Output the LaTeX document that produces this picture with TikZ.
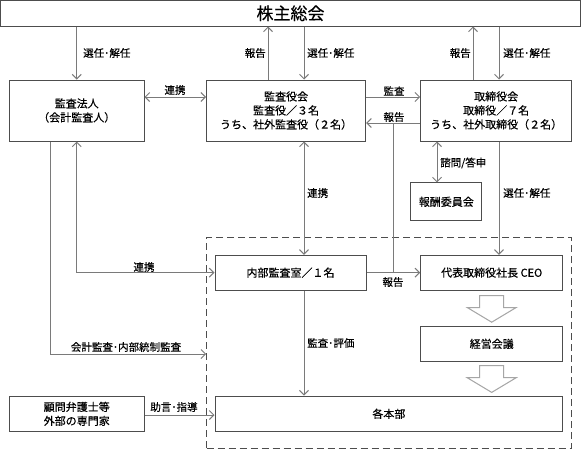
\documentclass[tikz,border=0pt]{standalone}
\usepackage{fontspec}
\setmainfont{Noto Sans CJK JP}[FakeBold=0.35]
\usetikzlibrary{arrows.meta}
\definecolor{boxc}{HTML}{4D4D4D}
\definecolor{linec}{HTML}{7A7A7A}
\definecolor{fatc}{HTML}{A6A6A6}
\begin{document}
\begin{tikzpicture}[x=1pt,y=-1pt,
  box/.style={draw=boxc,line width=1pt,inner sep=0pt,align=center,font=\fontsize{11}{14}\selectfont},
  conn/.style={draw=linec,line width=1pt},
  arr/.style={conn,-{Straight Barb[length=4.5pt,width=9pt]}},
  darr/.style={conn,{Straight Barb[length=4.5pt,width=9pt]}-{Straight Barb[length=4.5pt,width=9pt]}},
  lbl/.style={inner sep=0pt,font=\fontsize{10.5}{12}\selectfont},
  fat/.style={draw=fatc,line width=1pt,fill=white,line join=miter}]
\useasboundingbox (0,0) rectangle (581,450);
\fill[white] (0,0) rectangle (581,450);

% boxes
\node[box,minimum width=580pt,minimum height=25.5pt,font=\fontsize{17}{20}\selectfont] (soukai) at (290.5,13.25) {株主総会};
\node[box,minimum width=134.5pt,minimum height=61pt] (hojin) at (76.75,110.5) {監査法人\\（会計監査人）};
\node[box,minimum width=159pt,minimum height=61pt] (kansa) at (286.1,110.5) {監査役会\\監査役／３名\\うち、社外監査役（２名）};
\node[box,minimum width=151pt,minimum height=61pt] (tori) at (496.2,110.5) {取締役会\\取締役／７名\\うち、社外取締役（２名）};
\node[box,minimum width=70.7pt,minimum height=37.7pt] (houshu) at (446.3,201.8) {報酬委員会};
\node[draw=boxc,dash pattern=on 7pt off 4pt,line width=1pt,minimum width=365pt,minimum height=210.3pt,inner sep=0pt] (grp) at (389.2,342.85) {};
\node[box,minimum width=151pt,minimum height=34.7pt] (naibu) at (290.5,272.65) {内部監査室／１名};
\node[box,minimum width=142pt,minimum height=34.7pt] (ceo) at (491.7,272.65) {代表取締役社長 CEO};
\node[box,minimum width=142pt,minimum height=35.7pt] (keiei) at (491.7,343.85) {経営会議};
\node[box,minimum width=347.7pt,minimum height=35.7pt] (honbu) at (388.85,413.85) {各本部};
\node[box,minimum width=134.5pt,minimum height=35.7pt] (komon) at (76.75,413.85) {顧問弁護士等\\外部の専門家};

% helper coordinates
\coordinate (x50) at (50,0);
\coordinate (x268) at (268,0);
\coordinate (x304) at (304,0);
\coordinate (x393) at (393,0);
\coordinate (x437) at (437,0);
\coordinate (x473) at (473,0);
\coordinate (x499) at (499,0);
\coordinate (y97) at (0,97);
\coordinate (y123) at (0,123);
\coordinate (y273) at (0,272.65);
\coordinate (y354) at (0,354);
\coordinate (y415) at (0,415);

% connectors
\draw[arr] (soukai.south -| hojin.north) -- (hojin.north);
\draw[arr] (kansa.north -| x268) -- (soukai.south -| x268);
\draw[arr] (soukai.south -| x304) -- (kansa.north -| x304);
\draw[arr] (tori.north -| x473) -- (soukai.south -| x473);
\draw[arr] (soukai.south -| x499) -- (tori.north -| x499);
\draw[darr] (hojin.east |- y97) -- (kansa.west |- y97);
\draw[arr] (kansa.east |- y97) -- (tori.west |- y97);
\draw[arr] (tori.west |- y123) -- (kansa.east |- y123);
\draw[conn] (x393 |- y123) -- (x393 |- y273);
\draw[darr] (kansa.south -| x304) -- (naibu.north -| x304);
\draw[darr] (hojin.south) |- (naibu.west);
\draw[arr] (hojin.south -| x50) |- (grp.west |- y354);
\draw[darr] (tori.south -| x437) -- (houshu.north -| x437);
\draw[arr] (tori.south -| x499) -- (ceo.north -| x499);
\draw[arr] (naibu.east) -- (ceo.west);
\draw[arr] (naibu.south -| x304) -- (honbu.north -| x304);
\draw[arr] (komon.east |- y415) -- (honbu.west |- y415);

% block arrows
\draw[fat] ([shift={(-12,5)}]ceo.south) -- ++(24,0) -- ++(0,12) -- ++(12.5,0) -- ++(-24.5,14.7) -- ++(-24.5,-14.7) -- ++(12.5,0) -- cycle;
\draw[fat] ([shift={(-12,3.5)}]keiei.south) -- ++(24,0) -- ++(0,12) -- ++(12.5,0) -- ++(-24.5,14.7) -- ++(-24.5,-14.7) -- ++(12.5,0) -- cycle;

% labels
\node[lbl,anchor=west] (l1) at (83,53) {選任･解任};
\node[lbl,anchor=east] (l2) at (266,53) {報告};
\node[lbl,anchor=west] (l3) at (307,53) {選任･解任};
\node[lbl,anchor=east] (l4) at (471,53) {報告};
\node[lbl,anchor=west] (l5) at (503,53) {選任･解任};
\node[lbl] (l6) at (175,90) {連携};
\node[lbl] (l7) at (394,91) {監査};
\node[lbl] (l8) at (394,117) {報告};
\node[lbl,anchor=west] (l9) at (307,193) {連携};
\node[lbl,anchor=west] (l10) at (440,163) {諮問/答申};
\node[lbl,anchor=west] (l11) at (503,193) {選任･解任};
\node[lbl] (l12) at (144,267) {連携};
\node[lbl] (l13) at (393,282) {報告};
\node[lbl] (l14) at (126,347) {会計監査･内部統制監査};
\node[lbl,anchor=west] (l15) at (307,343) {監査･評価};
\node[lbl] (l16) at (174,407) {助言･指導};
\end{tikzpicture}
\end{document}
